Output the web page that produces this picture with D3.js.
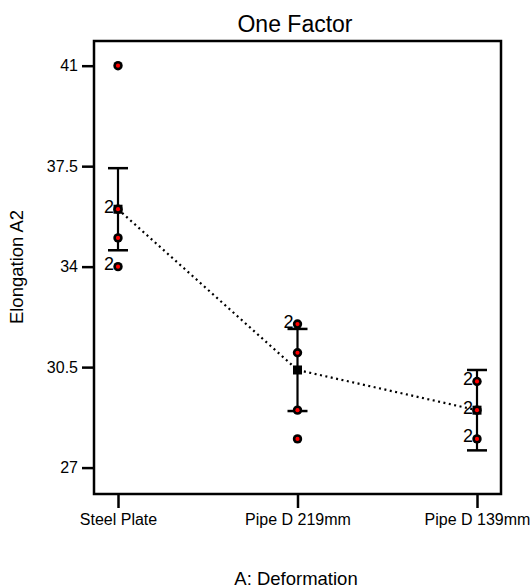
<!DOCTYPE html>
<html>
<head>
<meta charset="utf-8">
<script src="https://cdn.jsdelivr.net/npm/d3@7"></script>
<style>
  body { margin: 0; background: #fff; }
  svg { display: block; font-family: Arial, "Liberation Sans", sans-serif; }
</style>
</head>
<body>
<svg id="chart"></svg>
<script>
// data
const categories = ["Steel Plate", "Pipe D 219mm", "Pipe D 139mm"];
const obsValues = [[41, 36, 35, 34], [32, 31, 29, 28], [30, 29, 28]];
const obsCounts = [[1, 2, 1, 2], [2, 1, 1, 1], [2, 2, 2]];
const means = [36, 30.4, 29];
const barHalf = [1.43, 1.43, 1.40];
const yTicks = [27, 30.5, 34, 37.5, 41];

const W = 532, H = 588;
const margin = { top: 41, right: 31, bottom: 94, left: 94 };
const width = W - margin.left - margin.right;
const height = H - margin.top - margin.bottom;

const svg = d3.select("#chart")
    .attr("width", W)
    .attr("height", H);

svg.append("rect").attr("width", W).attr("height", H).attr("fill", "#fff");

const g = svg.append("g")
    .attr("transform", `translate(${margin.left},${margin.top})`);

const x = d3.scalePoint()
    .domain(categories)
    .range([24, 383]);

const y = d3.scaleLinear()
    .domain([26.08, 41.86])
    .range([height, 0]);

// axes
const yAxis = g.append("g")
    .call(d3.axisLeft(y).tickValues(yTicks).tickSize(12).tickPadding(4)
        .tickFormat(d => String(d)));
yAxis.select(".domain").remove();
yAxis.selectAll("line").attr("stroke", "#000").attr("stroke-width", 2.5);
yAxis.selectAll("text").attr("font-size", 16).attr("fill", "#000")
    .attr("font-family", "Arial, 'Liberation Sans', sans-serif");

const xAxis = g.append("g")
    .attr("transform", `translate(0,${height})`)
    .call(d3.axisBottom(x).tickSize(14).tickPadding(6));
xAxis.select(".domain").remove();
xAxis.selectAll("line").attr("stroke", "#000").attr("stroke-width", 2.5);
xAxis.selectAll("text").attr("font-size", 16).attr("fill", "#000")
    .attr("font-family", "Arial, 'Liberation Sans', sans-serif");

// plot frame
g.append("rect")
    .attr("width", width)
    .attr("height", height)
    .attr("fill", "none")
    .attr("stroke", "#000")
    .attr("stroke-width", 2.5);

// dotted line through the means
const line = d3.line()
    .x((d, i) => x(categories[i]))
    .y(d => y(d));
g.append("path")
    .datum(means)
    .attr("d", line)
    .attr("fill", "none")
    .attr("stroke", "#000")
    .attr("stroke-width", 2.2)
    .attr("stroke-dasharray", "2,3.5");

// error bars
const bars = g.selectAll(".ebar")
    .data(means)
    .enter().append("g")
    .attr("class", "ebar");
bars.append("line")
    .attr("x1", (d, i) => x(categories[i]))
    .attr("x2", (d, i) => x(categories[i]))
    .attr("y1", (d, i) => y(d + barHalf[i]))
    .attr("y2", (d, i) => y(d - barHalf[i]))
    .attr("stroke", "#000").attr("stroke-width", 2.2);
[1, -1].forEach(s => {
    bars.append("line")
        .attr("x1", (d, i) => x(categories[i]) - 10)
        .attr("x2", (d, i) => x(categories[i]) + 10)
        .attr("y1", (d, i) => y(d + s * barHalf[i]))
        .attr("y2", (d, i) => y(d + s * barHalf[i]))
        .attr("stroke", "#000").attr("stroke-width", 2.5);
});

// mean markers
g.selectAll(".mean")
    .data(means)
    .enter().append("rect")
    .attr("class", "mean")
    .attr("x", (d, i) => x(categories[i]) - 4.5)
    .attr("y", d => y(d) - 4.5)
    .attr("width", 9)
    .attr("height", 9)
    .attr("fill", "#000");

// observations
const obs = [];
obsValues.forEach((vals, i) => {
    vals.forEach((v, j) => obs.push({ cat: categories[i], v: v, n: obsCounts[i][j] }));
});

const pts = g.selectAll(".pt")
    .data(obs)
    .enter().append("g")
    .attr("class", "pt")
    .attr("transform", d => `translate(${x(d.cat)},${y(d.v)})`);
pts.append("circle").attr("r", 4.7).attr("fill", "#000");
pts.append("circle").attr("r", 2.1).attr("fill", "#ff0000");
pts.filter(d => d.n > 1).append("text")
    .attr("x", -4)
    .attr("y", 3.5)
    .attr("text-anchor", "end")
    .attr("font-size", 18)
    .attr("fill", "#000")
    .text(d => d.n);

// titles
svg.append("text")
    .attr("x", 295)
    .attr("y", 32)
    .attr("text-anchor", "middle")
    .attr("font-size", 23)
    .text("One Factor");

svg.append("text")
    .attr("transform", `translate(23,267) rotate(-90)`)
    .attr("text-anchor", "middle")
    .attr("font-size", 18.5)
    .text("Elongation A2");

svg.append("text")
    .attr("x", 296)
    .attr("y", 585)
    .attr("text-anchor", "middle")
    .attr("font-size", 18.5)
    .text("A: Deformation");
</script>
</body>
</html>
